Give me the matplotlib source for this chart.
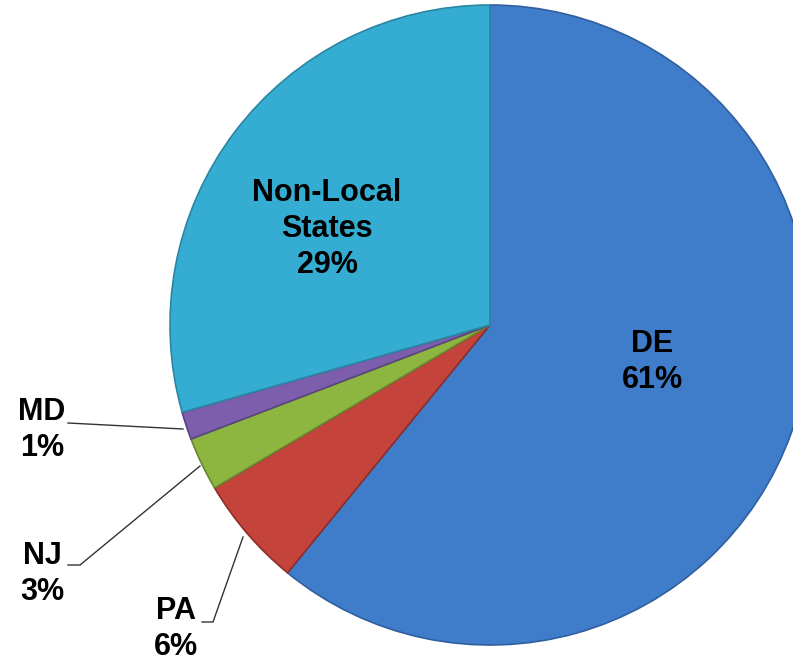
import matplotlib.pyplot as plt

# data (percent of total)
states = ['DE', 'PA', 'NJ', 'MD', 'Non-Local\nStates']
shares = [60.9, 5.6, 2.7, 1.4, 29.4]
labels = ['61%', '6%', '3%', '1%', '29%']
colors = ['#3F7DCB', '#C4433B', '#8DB641', '#7C5EAD', '#35ADD2']
edges = ['#2F5F9E', '#8E2E28', '#67862E', '#5A4480', '#2A86A3']

W, H = 793, 665
fig = plt.figure(figsize=(W / 100, H / 100), dpi=100)
ax = fig.add_axes([0, 0, 1, 1])

cx, cy, r = 490, H - 325, 320

wedges, _ = ax.pie(shares, colors=colors, startangle=90, counterclock=False,
                   center=(cx, cy), radius=r, frame=True,
                   wedgeprops=dict(linewidth=1.2))
for w, ec in zip(wedges, edges):
    w.set_edgecolor(ec)

ax.set_xlim(0, W)
ax.set_ylim(0, H)
ax.set_aspect('equal')
ax.axis('off')

font = dict(family=['Liberation Sans', 'DejaVu Sans'], fontsize=22,
            fontweight='bold', color='black', ha='center', va='center',
            linespacing=1.27)

# labels inside
ax.text(652, H - 362, states[0] + '\n' + labels[0], **font)
ax.text(327, H - 229, states[4] + '\n' + labels[4], **font)

# labels outside with leader lines
ax.text(42, H - 430, states[3] + '\n' + labels[3], **font)
ax.plot([68, 183], [H - 423, H - 429], color='#333333', lw=1)

ax.text(42, H - 574, states[2] + '\n' + labels[2], **font)
ax.plot([68, 80, 200], [H - 565, H - 565, H - 466], color='#333333', lw=1)

ax.text(176, H - 629, states[1] + '\n' + labels[1], **font)
ax.plot([202, 213, 243], [H - 622, H - 622, H - 537], color='#333333', lw=1)

fig.savefig('out.png', dpi=100)
